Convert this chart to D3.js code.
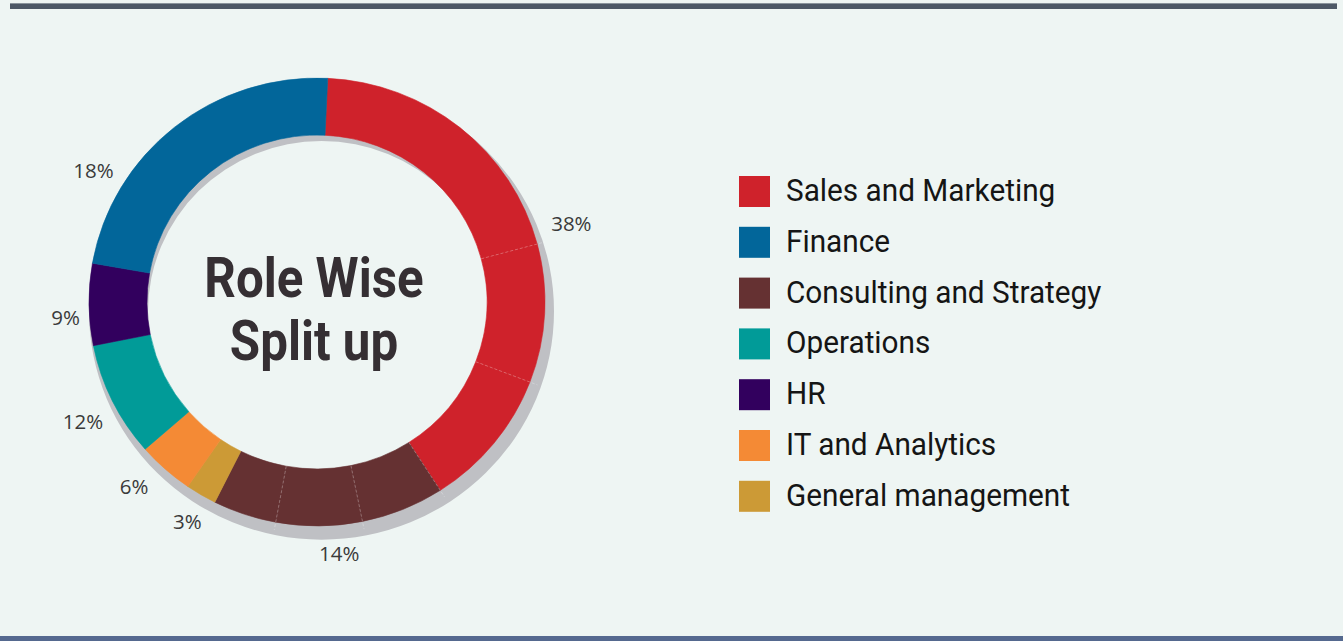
<!DOCTYPE html>
<html>
<head>
<meta charset="utf-8">
<script src="https://cdn.jsdelivr.net/npm/d3@7"></script>
<style>
  html, body { margin: 0; padding: 0; background: #eef5f3; }
  svg { display: block; }
</style>
</head>
<body>
<div id="wrapper"></div>
<script>
// categories (legend order) and their colours
const categories = ["Sales and Marketing", "Finance", "Consulting and Strategy", "Operations", "HR", "IT and Analytics", "General management"]
const categoryColors = ["#cf222b", "#02669a", "#653132", "#019b98", "#32005e", "#f48a35", "#cc9a36"]
const percentLabels = ["38%", "18%", "14%", "12%", "9%", "6%", "3%"]

// ring pieces clockwise from the top, as drawn (share of the circle)
const sliceCategories = ["Sales and Marketing", "Sales and Marketing", "Sales and Marketing",
  "Consulting and Strategy", "Consulting and Strategy", "Consulting and Strategy",
  "General management", "IT and Analytics", "Operations", "HR", "Finance"]
const sliceValues = [20.1, 10.0, 10.1, 5.9, 6.1, 4.5, 2.2, 4.0, 8.3, 5.9, 23.0]

const titleLines = ["Role Wise", "Split up"]

function drawDonut() {
  // 1. dimensions
  const dimensions = {
    width: 1343,
    height: 641,
    cx: 317,
    cy: 302,
    outer: 228,
    inner: 170,
    squash: 0.982,
    startDeg: 2.7,
  }

  // 2. canvas
  const wrapper = d3.select("#wrapper")
    .append("svg")
      .attr("width", dimensions.width)
      .attr("height", dimensions.height)

  wrapper.append("rect")
      .attr("width", dimensions.width)
      .attr("height", dimensions.height)
      .attr("fill", "#eef5f3")

  // frame bars
  wrapper.append("rect")
      .attr("x", 10).attr("y", 3)
      .attr("width", 1327).attr("height", 6)
      .attr("fill", "#4d5866")
  wrapper.append("rect")
      .attr("x", 10).attr("y", 3)
      .attr("width", 1327).attr("height", 1)
      .attr("fill", "#8a949c")
  wrapper.append("rect")
      .attr("x", 0).attr("y", 636)
      .attr("width", dimensions.width).attr("height", 5)
      .attr("fill", "#55698f")

  const colorScale = d3.scaleOrdinal()
    .domain(categories)
    .range(categoryColors)

  const start = dimensions.startDeg * Math.PI / 180
  const pie = d3.pie()
    .sort(null)
    .value(d => d.value)
    .startAngle(start)
    .endAngle(start + 2 * Math.PI)

  const slices = pie(sliceValues.map((v, i) => ({ value: v, category: sliceCategories[i] })))

  const arc = d3.arc()
    .innerRadius(dimensions.inner)
    .outerRadius(dimensions.outer)

  const ring = wrapper.append("g")
      .attr("transform", `translate(${dimensions.cx},${dimensions.cy}) scale(1,${dimensions.squash})`)

  // 3. shadow ring
  ring.append("path")
      .attr("transform", "translate(4.5,9.5)")
      .attr("d", d3.arc()
        .innerRadius(dimensions.inner + 3.5)
        .outerRadius(dimensions.outer + 4.5)
        .startAngle(0)
        .endAngle(2 * Math.PI)())
      .attr("fill", "#bfc0c4")

  // 4. pieces
  ring.selectAll(".slice")
    .data(slices)
    .join("path")
      .attr("class", "slice")
      .attr("d", arc)
      .attr("fill", d => colorScale(d.data.category))
      .attr("stroke", d => colorScale(d.data.category))
      .attr("stroke-width", 0.6)

  // faint dividers inside the split groups
  const split = ["Sales and Marketing", "Consulting and Strategy"]
  const dividers = slices.filter((d, i) => i > 0
    && split.includes(d.data.category)
    && split.includes(slices[i - 1].data.category))
  ring.selectAll(".divider")
    .data(dividers)
    .join("line")
      .attr("class", "divider")
      .attr("x1", d => Math.sin(d.startAngle) * dimensions.inner)
      .attr("y1", d => -Math.cos(d.startAngle) * dimensions.inner)
      .attr("x2", d => Math.sin(d.startAngle) * (dimensions.outer + 8))
      .attr("y2", d => -Math.cos(d.startAngle) * (dimensions.outer + 8))
      .attr("stroke", "rgba(255,255,255,0.35)")
      .attr("stroke-width", 0.8)
      .attr("stroke-dasharray", "3,2")

  // 5. percent labels at the middle of each category's span
  const spans = categories.map(c => {
    const parts = slices.filter(s => s.data.category === c)
    return {
      category: c,
      a0: d3.min(parts, p => p.startAngle),
      a1: d3.max(parts, p => p.endAngle),
    }
  })
  const labelNudge = {
    "Sales and Marketing": [-2, 266],
    "Finance": [-21, 259],
    "Consulting and Strategy": [-2, 253],
    "Operations": [-1, 263],
    "HR": [-3, 252],
    "IT and Analytics": [3, 260],
    "General management": [0, 255],
  }
  wrapper.append("g")
    .selectAll("text")
    .data(spans)
    .join("text")
      .attr("x", d => {
        const [da, r] = labelNudge[d.category]
        const a = (d.a0 + d.a1) / 2 + da * Math.PI / 180
        return dimensions.cx + Math.sin(a) * r
      })
      .attr("y", d => {
        const [da, r] = labelNudge[d.category]
        const a = (d.a0 + d.a1) / 2 + da * Math.PI / 180
        return dimensions.cy - Math.cos(a) * r + 7
      })
      .attr("text-anchor", "middle")
      .style("font-family", "'Open Sans', 'Noto Sans', sans-serif")
      .style("font-size", "20.5px")
      .attr("fill", "#3a3a3a")
      .text((d, i) => percentLabels[i])

  // 6. title in the hole (condensed look by narrowing Roboto)
  wrapper.append("g")
    .selectAll("text")
    .data(titleLines)
    .join("text")
      .attr("transform", (d, i) => `translate(314,${297 + i * 63}) scale(0.88,1)`)
      .attr("text-anchor", "middle")
      .style("font-family", "Roboto, sans-serif")
      .style("font-weight", "bold")
      .style("font-size", "56px")
      .attr("fill", "#352f33")
      .text(d => d)

  // 7. legend
  const legendY = d3.scaleBand()
    .domain(categories)
    .range([176, 176 + categories.length * 50.8])

  const legend = wrapper.append("g")
    .selectAll("g")
    .data(categories)
    .join("g")
      .attr("transform", d => `translate(739,${legendY(d)})`)

  legend.append("rect")
      .attr("width", 31)
      .attr("height", 31)
      .attr("fill", d => colorScale(d))

  legend.append("text")
      .attr("transform", "translate(47,25) scale(0.93,1)")
      .style("font-family", "Roboto, sans-serif")
      .style("font-size", "32px")
      .attr("fill", "#151515")
      .text(d => d)
}
drawDonut()
</script>
</body>
</html>
